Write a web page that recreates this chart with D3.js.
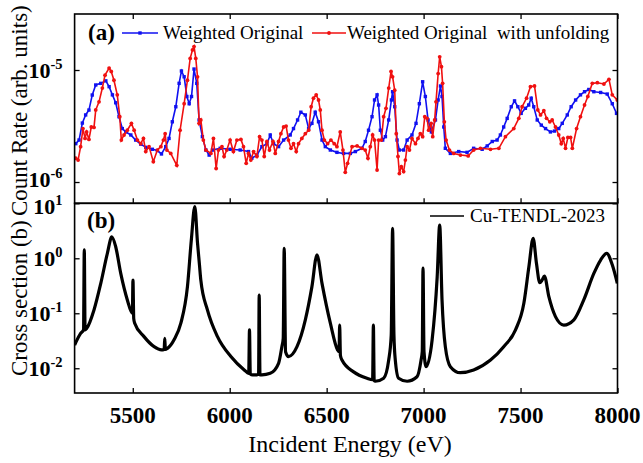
<!DOCTYPE html>
<html>
<head>
<meta charset="utf-8">
<script src="https://cdn.jsdelivr.net/npm/d3@7"></script>
<style>
  body { margin: 0; background: #fff; }
  svg text { font-family: "Liberation Serif", "Times New Roman", serif; }
</style>
</head>
<body>
<div id="chart"></div>
<script>
// energies in eV, count rates in units of 1e-6 (arb. units)
var weightedOriginal = [
  [5206,2.2],[5223,2.37],[5240,3.36],[5257,3.97],[5274,4.39],[5291,5.98],[5309,7.35],[5335,7.6],
  [5361,8.0],[5378,7.1],[5395,6.0],[5412,5.1],[5429,3.83],[5446,3.0],[5464,2.8],[5490,2.63],
  [5515,2.37],[5541,2.18],[5567,2.04],[5601,1.96],[5627,1.91],[5648,1.78],[5670,2.07],[5687,2.45],
  [5704,3.45],[5722,4.7],[5739,7.6],[5751,9.8],[5765,8.7],[5779,5.8],[5791,5.0],[5803,5.8],
  [5816,10.2],[5830,7.6],[5842,3.58],[5859,2.54],[5877,1.93],[5894,1.74],[5911,1.93],[5951,2.0],
  [6002,1.96],[6054,1.93],[6097,1.87],[6114,1.63],[6140,1.74],[6166,2.07],[6192,2.2],[6209,2.63],
  [6226,2.2],[6252,2.07],[6278,2.37],[6312,2.63],[6329,3.0],[6350,3.58],[6367,4.2],[6390,3.97],
  [6407,3.0],[6424,3.34],[6441,4.2],[6458,3.45],[6476,2.37],[6493,2.07],[6519,1.93],[6553,1.84],
  [6587,1.8],[6622,1.8],[6648,1.87],[6682,2.0],[6699,2.3],[6716,2.9],[6734,3.83],[6747,5.4],
  [6760,6.0],[6768,4.87],[6777,2.9],[6789,2.37],[6803,2.54],[6820,3.58],[6834,5.4],[6840,6.4],
  [6851,4.7],[6863,2.37],[6875,1.93],[6897,1.93],[6915,2.37],[6940,2.63],[6961,3.34],[6978,5.0],
  [6995,7.85],[7009,5.8],[7023,3.58],[7040,2.8],[7061,3.58],[7075,5.4],[7087,7.2],[7095,5.8],
  [7104,3.1],[7112,2.0],[7138,1.8],[7181,1.87],[7224,1.84],[7258,2.0],[7302,1.96],[7328,2.1],
  [7354,2.3],[7379,2.37],[7396,2.63],[7413,3.1],[7431,3.7],[7452,4.7],[7469,5.3],[7486,4.7],
  [7503,4.1],[7525,4.55],[7542,4.87],[7555,5.6],[7568,4.7],[7586,3.58],[7607,3.22],[7629,3.0],
  [7654,2.8],[7675,2.85],[7697,3.0],[7715,3.34],[7741,3.97],[7761,4.7],[7784,5.4],[7809,6.0],
  [7830,6.4],[7852,6.7],[7878,6.4],[7913,6.3],[7947,6.1],[7973,5.0],[7995,4.1]
];

var weightedUnfolding = [
  [5206,1.63],[5218,1.57],[5231,2.07],[5243,3.0],[5254,2.45],[5262,2.8],[5274,2.4],[5286,3.1],
  [5300,3.07],[5309,4.4],[5326,5.2],[5343,6.9],[5357,9.0],[5378,10.4],[5389,9.7],[5403,8.1],
  [5420,6.0],[5433,3.83],[5441,2.37],[5455,2.63],[5472,2.9],[5493,3.34],[5507,2.9],[5524,2.37],
  [5541,2.2],[5555,2.45],[5567,1.87],[5584,2.07],[5606,1.52],[5627,1.93],[5645,2.07],[5658,2.37],
  [5667,2.7],[5676,1.93],[5696,1.8],[5727,1.41],[5744,2.9],[5765,5.0],[5782,8.1],[5796,12.7],
  [5808,15.1],[5816,16.2],[5825,12.7],[5834,8.7],[5842,3.34],[5851,3.58],[5864,2.37],[5877,1.93],
  [5903,1.8],[5916,2.45],[5930,1.32],[5942,1.93],[5960,2.07],[5971,1.69],[5985,1.93],[6002,2.37],
  [6019,1.87],[6037,2.37],[6058,2.4],[6071,2.07],[6085,1.47],[6097,1.8],[6109,1.57],[6123,1.87],
  [6140,1.69],[6154,2.54],[6166,2.37],[6178,1.69],[6192,2.3],[6205,1.93],[6223,2.3],[6235,1.8],
  [6252,2.3],[6264,2.7],[6278,3.1],[6291,3.16],[6303,2.37],[6316,2.0],[6329,2.2],[6343,1.87],
  [6355,2.2],[6372,2.45],[6390,2.7],[6407,2.9],[6420,4.7],[6432,5.6],[6446,6.0],[6458,5.4],
  [6467,4.4],[6476,2.9],[6488,2.37],[6505,2.2],[6522,2.37],[6539,2.2],[6553,2.07],[6570,2.8],
  [6584,1.93],[6596,1.22],[6608,1.47],[6631,2.07],[6657,2.1],[6682,2.0],[6699,1.93],[6713,1.63],
  [6725,2.07],[6737,2.63],[6747,2.37],[6760,1.28],[6768,2.37],[6782,2.37],[6794,3.83],[6806,4.55],
  [6820,6.9],[6832,9.7],[6840,8.7],[6851,6.6],[6859,2.7],[6868,1.69],[6875,1.19],[6885,1.37],
  [6897,1.24],[6906,1.57],[6915,2.07],[6927,1.93],[6940,2.45],[6958,2.2],[6971,2.45],[6983,2.7],
  [6995,2.54],[7006,3.83],[7018,3.7],[7026,2.9],[7039,3.34],[7047,2.54],[7057,3.58],[7064,5.2],
  [7075,9.3],[7083,13.1],[7092,10.7],[7098,7.6],[7107,3.45],[7116,2.37],[7133,1.93],[7155,1.8],
  [7190,1.74],[7230,1.71],[7258,1.93],[7293,2.0],[7345,1.96],[7388,2.0],[7422,2.54],[7465,3.0],
  [7491,3.7],[7508,4.7],[7531,5.6],[7551,7.1],[7572,7.2],[7589,4.4],[7603,3.97],[7620,4.33],
  [7634,3.7],[7651,3.45],[7663,3.58],[7680,3.1],[7697,2.63],[7710,2.2],[7720,2.45],[7732,2.0],
  [7744,2.5],[7758,2.5],[7767,2.0],[7789,3.0],[7809,3.83],[7830,4.87],[7847,5.8],[7870,7.6],
  [7896,7.7],[7930,7.5],[7956,8.25],[7973,6.0],[7999,5.4]
];

// cross section in barns
var cuTendl = [
  [5200,0.0265],[5231,0.043],[5246,0.05],[5250,1.42],[5254,0.05],[5262,0.053],[5300,0.115],
  [5335,0.35],[5369,1.23],[5392,2.45],[5412,1.62],[5438,0.53],[5472,0.175],[5498,0.1],[5501,0.4],
  [5505,0.08],[5510,0.066],[5558,0.0376],[5610,0.0247],[5648,0.0216],[5662,0.022],[5665,0.035],
  [5668,0.022],[5679,0.023],[5713,0.033],[5748,0.066],[5782,0.305],[5802,2.15],[5820,8.7],
  [5834,1.88],[5844,0.76],[5851,0.4],[5885,0.115],[5937,0.0376],[6006,0.0163],[6075,0.0093],
  [6098,0.0081],[6102,0.05],[6106,0.0079],[6118,0.0076],[6140,0.0076],[6149,0.008],[6152,0.215],
  [6156,0.0076],[6166,0.0076],[6209,0.0081],[6252,0.0123],[6269,0.0247],[6276,0.035],[6281,1.52],
  [6288,0.02],[6303,0.0163],[6347,0.0247],[6390,0.076],[6424,0.305],[6450,1.15],[6476,0.35],
  [6519,0.066],[6556,0.0216],[6564,0.02],[6567,0.061],[6571,0.017],[6579,0.0141],[6639,0.0086],
  [6708,0.0066],[6737,0.0062],[6741,0.061],[6745,0.006],[6751,0.0058],[6794,0.0066],[6820,0.0141],
  [6833,0.04],[6840,3.51],[6847,0.04],[6854,0.0141],[6871,0.0066],[6915,0.0058],[6966,0.007],
  [6987,0.0141],[6993,0.02],[6997,0.66],[7002,0.02],[7013,0.0107],[7044,0.033],[7070,0.46],
  [7083,4.03],[7095,0.175],[7112,0.0247],[7138,0.0107],[7189,0.0083],[7258,0.0093],[7345,0.0141],
  [7413,0.0247],[7474,0.05],[7517,0.152],[7543,0.7],[7565,2.31],[7582,0.81],[7599,0.36],
  [7611,0.4],[7623,0.476],[7646,0.2],[7680,0.087],[7723,0.061],[7775,0.076],[7826,0.175],
  [7878,0.53],[7913,0.93],[7944,1.23],[7973,0.76],[7999,0.35]
];

var energyTicks = [5500, 6000, 6500, 7000, 7500, 8000];
var countExps = [-6, -5];
var xsExps = [-2, -1, 0, 1];
var countUnit = 1e-6;

var W = 643, H = 463;
var left = 74.6, right = 617.5;
var topA = 14, botA = 203.3, botB = 393;

var svg = d3.select('#chart').append('svg')
  .attr('width', W).attr('height', H);

var x = d3.scaleLinear().domain([5200, 8000]).range([left, right]);
var yA = d3.scaleLog().domain([Math.pow(10, -6.19), Math.pow(10, -4.5)]).range([botA, topA]);
var yB = d3.scaleLog().domain([Math.pow(10, -2.45), 10]).range([botB, botA]);

// clip paths for both panels
var defs = svg.append('defs');
defs.append('clipPath').attr('id', 'clipA').append('rect')
  .attr('x', left).attr('y', topA).attr('width', right - left).attr('height', botA - topA);
defs.append('clipPath').attr('id', 'clipB').append('rect')
  .attr('x', left).attr('y', botA).attr('width', right - left).attr('height', botB - botA);

// ---- panel (a)
var gA = svg.append('g').attr('clip-path', 'url(#clipA)');

var lineA = d3.line()
  .x(function(d) { return x(d[0]); })
  .y(function(d) { return yA(d[1] * countUnit); });

gA.append('path').datum(weightedOriginal)
  .attr('d', lineA).attr('fill', 'none')
  .attr('stroke', '#1010f0').attr('stroke-width', 1.6);
gA.selectAll('rect.bm').data(weightedOriginal).enter().append('rect')
  .attr('class', 'bm')
  .attr('x', function(d) { return x(d[0]) - 1.7; })
  .attr('y', function(d) { return yA(d[1] * countUnit) - 1.7; })
  .attr('width', 3.4).attr('height', 3.4)
  .attr('fill', '#1010f0');

gA.append('path').datum(weightedUnfolding)
  .attr('d', lineA).attr('fill', 'none')
  .attr('stroke', '#f01010').attr('stroke-width', 1.6);
gA.selectAll('circle.rm').data(weightedUnfolding).enter().append('circle')
  .attr('class', 'rm')
  .attr('cx', function(d) { return x(d[0]); })
  .attr('cy', function(d) { return yA(d[1] * countUnit); })
  .attr('r', 1.9)
  .attr('fill', '#f01010');

// ---- panel (b)
var gB = svg.append('g').attr('clip-path', 'url(#clipB)');
var lineB = d3.line()
  .x(function(d) { return x(d[0]); })
  .y(function(d) { return yB(d[1]); })
  .curve(d3.curveMonotoneX);
gB.append('path').datum(cuTendl)
  .attr('d', lineB).attr('fill', 'none')
  .attr('stroke', '#000').attr('stroke-width', 3.2)
  .attr('stroke-linejoin', 'round');

// ---- axes (inward ticks)
function noLabels(axis) { return axis.tickFormat('').tickSizeOuter(0); }

svg.append('g').attr('transform', 'translate(0,' + botA + ')')
  .call(noLabels(d3.axisBottom(x).tickValues(energyTicks).tickSize(-5)));
svg.append('g').attr('transform', 'translate(0,' + topA + ')')
  .call(noLabels(d3.axisTop(x).tickValues(energyTicks).tickSize(-5)));
svg.append('g').attr('transform', 'translate(0,' + botB + ')')
  .call(noLabels(d3.axisBottom(x).tickValues(energyTicks).tickSize(-5)));

var countTickVals = countExps.map(function(e) { return Math.pow(10, e); });
var xsTickVals = xsExps.map(function(e) { return Math.pow(10, e); });

svg.append('g').attr('transform', 'translate(' + left + ',0)')
  .call(noLabels(d3.axisLeft(yA).tickValues(countTickVals).tickSize(-5)));
svg.append('g').attr('transform', 'translate(' + right + ',0)')
  .call(noLabels(d3.axisRight(yA).tickValues(countTickVals).tickSize(-5)));
svg.append('g').attr('transform', 'translate(' + left + ',0)')
  .call(noLabels(d3.axisLeft(yB).tickValues(xsTickVals).tickSize(-5)));
svg.append('g').attr('transform', 'translate(' + right + ',0)')
  .call(noLabels(d3.axisRight(yB).tickValues(xsTickVals).tickSize(-5)));

svg.selectAll('.domain').remove();
svg.selectAll('.tick line').attr('stroke', '#000').attr('stroke-width', 1.3);

// frames
svg.append('rect').attr('x', left).attr('y', topA)
  .attr('width', right - left).attr('height', botA - topA)
  .attr('fill', 'none').attr('stroke', '#000').attr('stroke-width', 1.6);
svg.append('rect').attr('x', left).attr('y', botA)
  .attr('width', right - left).attr('height', botB - botA)
  .attr('fill', 'none').attr('stroke', '#000').attr('stroke-width', 1.6);

// power-of-ten labels (the two that meet at the panel join are nudged apart)
function powLabel(yScale, exps, nudge) {
  exps.forEach(function(e) {
    var dy = nudge[e] || 0;
    var t = svg.append('text')
      .attr('x', left - 12).attr('y', yScale(Math.pow(10, e)) + 7.5 + dy)
      .attr('text-anchor', 'end')
      .attr('font-weight', 'bold').attr('font-size', 22);
    t.append('tspan').text('10');
    t.append('tspan').attr('dy', -8.5).attr('font-size', 14.5).text(e < 0 ? '-' + (-e) : String(e));
  });
}
powLabel(yA, countExps, {'-6': -3});
powLabel(yB, xsExps, {'1': 3});

// energy tick labels
svg.selectAll('text.xl').data(energyTicks).enter().append('text')
  .attr('class', 'xl')
  .attr('x', function(d) { return x(d); })
  .attr('y', 423)
  .attr('text-anchor', 'middle')
  .attr('font-weight', 'bold').attr('font-size', 23)
  .text(function(d) { return d; });

// axis titles
svg.append('text')
  .attr('x', (left + right) / 2 + 4).attr('y', 452)
  .attr('text-anchor', 'middle').attr('font-size', 24)
  .text('Incident Energy (eV)');
svg.append('text')
  .attr('transform', 'translate(27,' + ((topA + botA) / 2 + 2) + ') rotate(-90)')
  .attr('text-anchor', 'middle').attr('font-size', 23)
  .text('Count Rate (arb. units)');
svg.append('text')
  .attr('transform', 'translate(27,' + ((botA + botB) / 2) + ') rotate(-90)')
  .attr('text-anchor', 'middle').attr('font-size', 23)
  .text('Cross section (b)');

// legend (a)
svg.append('text').attr('x', 88).attr('y', 40)
  .attr('font-weight', 'bold').attr('font-size', 23).text('(a)');
svg.append('line').attr('x1', 122).attr('x2', 158).attr('y1', 33).attr('y2', 33)
  .attr('stroke', '#1010f0').attr('stroke-width', 1.6);
svg.append('rect').attr('x', 140 - 1.7).attr('y', 33 - 1.7)
  .attr('width', 3.4).attr('height', 3.4).attr('fill', '#1010f0');
svg.append('text').attr('x', 163).attr('y', 39).attr('font-size', 19)
  .text('Weighted Original');
svg.append('line').attr('x1', 312).attr('x2', 346).attr('y1', 33).attr('y2', 33)
  .attr('stroke', '#f01010').attr('stroke-width', 1.6);
svg.append('circle').attr('cx', 329).attr('cy', 33).attr('r', 1.9).attr('fill', '#f01010');
svg.append('text').attr('x', 347).attr('y', 39).attr('font-size', 19)
  .attr('xml:space', 'preserve').style('white-space', 'pre')
  .text('Weighted Original  with unfolding');

// legend (b)
svg.append('text').attr('x', 87).attr('y', 228)
  .attr('font-weight', 'bold').attr('font-size', 23).text('(b)');
svg.append('line').attr('x1', 430).attr('x2', 464).attr('y1', 216).attr('y2', 216)
  .attr('stroke', '#000').attr('stroke-width', 1.6);
svg.append('text').attr('x', 470).attr('y', 222).attr('font-size', 19)
  .text('Cu-TENDL-2023');
</script>
</body>
</html>
